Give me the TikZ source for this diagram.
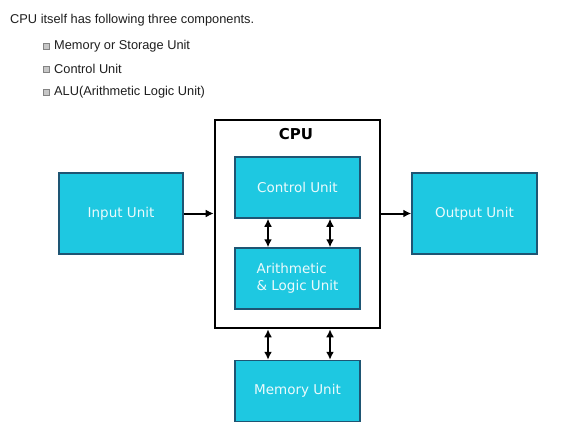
\documentclass[tikz,border=0pt]{standalone}
\usepackage{fontspec}
\setmainfont{Liberation Sans}
\newfontfamily\boxfont{DejaVu Sans}
\usetikzlibrary{arrows.meta}
\definecolor{unitfill}{RGB}{30,200,225}
\definecolor{unitedge}{RGB}{30,85,115}
\definecolor{unittext}{RGB}{235,250,252}
\definecolor{bulletgray}{RGB}{175,175,175}
\tikzset{
  unitbox/.style={draw=unitedge, line width=1.5pt, fill=unitfill, text=unittext,
    minimum width=125pt, minimum height=61pt, inner sep=0pt,
    font=\boxfont\fontsize{13.5}{16.5}\selectfont},
  flow/.style={line width=2pt, -{Latex[length=8pt,width=8pt]}},
  both/.style={line width=2pt, {Latex[length=8pt,width=8pt]}-{Latex[length=8pt,width=8pt]}},
  listtext/.style={anchor=west, inner sep=0pt, text=black!88, font=\fontsize{12.8}{15}\selectfont}
}
\begin{document}
\begin{tikzpicture}[x=1pt,y=-1pt]
\useasboundingbox (0,0) rectangle (577,447);
\fill[white] (0,0) rectangle (577,447);

\node[listtext] (intro) at (10,20) {CPU itself has following three components.};
\foreach \y/\name/\txt in {46/mem/Memory or Storage Unit, 69/ctl/Control Unit, 92/alu/ALU(Arithmetic Logic Unit)}{
  \draw[bulletgray!75!black, fill=bulletgray!70, line width=0.6pt] (43.5,\y-3) rectangle (49.5,\y+3);
  \node[listtext] (item\name) at (54,\y) {\txt};
}

\node[draw, line width=2.6pt, minimum width=165pt, minimum height=208pt] (cpu) at (297.5,224) {};
\node[font=\boxfont\bfseries\fontsize{15}{17}\selectfont] (cpulabel) at (296,134) {CPU};

\node[unitbox] (ctrl) at (297.5,187.5) {Control Unit};
\node[unitbox, align=left] (alu) at (297.5,278.5) {Arithmetic\\\& Logic Unit};
\node[unitbox] (mem) at (297.5,391) {Memory Unit};
\node[unitbox, minimum width=124pt, minimum height=81pt] (input) at (121,213.5) {Input Unit};
\node[unitbox, minimum height=81pt] (output) at (474.5,213.5) {Output Unit};

\draw[flow] (input.east) -- (input.east -| cpu.west);
\draw[flow] (cpu.east |- output.west) -- (output.west);
\foreach \dx in {-29.5,32.5}{
  \draw[both] ([xshift=\dx]ctrl.south) -- ([xshift=\dx]alu.north);
  \draw[both] ([xshift=\dx]cpu.south) -- ([xshift=\dx]mem.north);
}
\end{tikzpicture}
\end{document}
